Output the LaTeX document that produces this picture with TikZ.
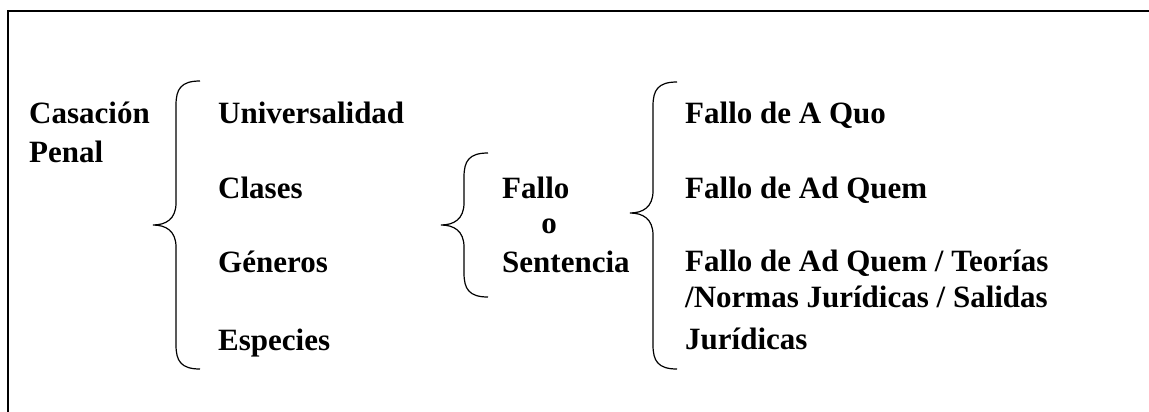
\documentclass[tikz,border=0pt]{standalone}
\usepackage{fontspec}
\setmainfont{Liberation Serif}
\usetikzlibrary{positioning}

% curly brace opening to the right: vertical x, top y, tip y, bottom y
\newcommand{\curlybr}[4]{%
  \draw[bracestyle] (#1+24,#2) .. controls (#1+5,#2) and (#1,#2+8) .. (#1,#2+24)
    -- (#1,#3-22) .. controls (#1,#3-6) and (#1-10,#3) .. (#1-23,#3)
    .. controls (#1-10,#3) and (#1,#3+6) .. (#1,#3+22)
    -- (#1,#4-24) .. controls (#1,#4-8) and (#1+5,#4) .. (#1+24,#4);}

\begin{document}
\begin{tikzpicture}[x=1pt,y=-1pt,
    lbl/.style={font=\bfseries\fontsize{31}{36}\selectfont,inner sep=0pt,anchor=base west},
    bracestyle/.style={line width=1.2pt},
    frame/.style={line width=1.2pt}]
  \useasboundingbox (0,0) rectangle (1149,412);
  \clip (0,0) rectangle (1149,412);
  \draw[frame] (8,430) -- (8,11) -- (1170,11);

  \node[lbl] (casacion) at (29,124) {Casación};
  \node[lbl, below=38pt of casacion.base west, anchor=base west] (penal) {Penal};

  \node[lbl] (univ) at (218,124) {Universalidad};
  \node[lbl, below=74pt of univ.base west, anchor=base west] (clases) {Clases};
  \node[lbl, below=74pt of clases.base west, anchor=base west] (generos) {Géneros};
  \node[lbl, below=78pt of generos.base west, anchor=base west] (especies) {Especies};

  \node[lbl] (fallo) at (502,198) {Fallo};
  \node[lbl, anchor=base] (o) at (549,233) {o};
  \node[lbl, below=74pt of fallo.base west, anchor=base west] (sentencia) {Sentencia};

  \node[lbl] (aquo) at (685,124) {Fallo de A Quo};
  \node[lbl, below=74pt of aquo.base west, anchor=base west] (adquem) {Fallo de Ad Quem};
  % base of a multi-line node is its last line
  \node[lbl, align=left, below=151pt of adquem.base west, anchor=base west] (teorias)
    {Fallo de Ad Quem / Teorías\\/Normas Jurídicas / Salidas\\[6pt]Jurídicas};

  \curlybr{176}{81}{225}{369}
  \curlybr{464}{153}{225}{297}
  \curlybr{653}{82}{213}{369}
\end{tikzpicture}
\end{document}
